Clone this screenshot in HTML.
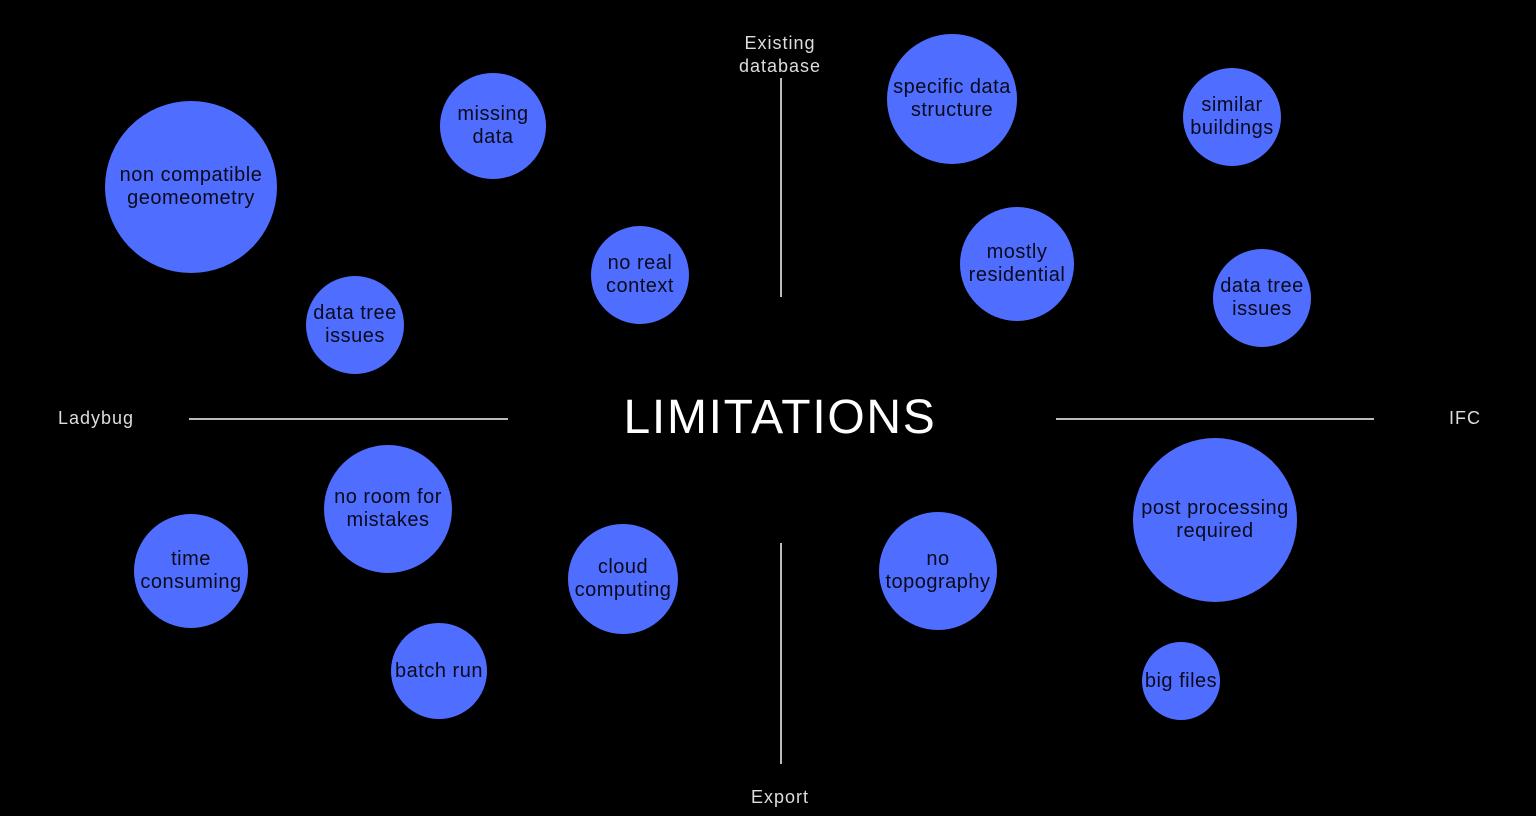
<!DOCTYPE html>
<html><head><style>
body{margin:0;width:1536px;height:816px;background:#000;overflow:hidden;position:relative;font-family:"Liberation Sans",sans-serif}
.c{position:absolute;border-radius:50%;background:#4F6EFF;display:flex;align-items:center;justify-content:center;text-align:center;color:#0a0a1a;font-size:20px;line-height:23px;letter-spacing:0.5px;white-space:nowrap}
.l{position:absolute;background:#bbb}
.t{position:absolute;color:#ddd;font-size:18px;letter-spacing:1px;text-align:center;line-height:23px}
</style></head><body>
<div class="l" style="left:780px;top:78px;width:1.5px;height:219px"></div>
<div class="l" style="left:780px;top:543px;width:1.5px;height:221px"></div>
<div class="l" style="left:189px;top:418px;width:319px;height:1.5px"></div>
<div class="l" style="left:1056px;top:418px;width:318px;height:1.5px"></div>
<div class="t" style="left:700px;top:32px;width:160px">Existing<br>database</div>
<div class="t" style="left:58px;top:407px">Ladybug</div>
<div class="t" style="left:1449px;top:407px">IFC</div>
<div class="t" style="left:700px;top:786px;width:160px">Export</div>
<div style="position:absolute;left:580px;top:388px;width:400px;text-align:center;color:#fff;font-size:48px;letter-spacing:1.7px;line-height:60px">LIMITATIONS</div>
<div class="c" style="left:105px;top:101px;width:172px;height:172px">non compatible<br>geomeometry</div>
<div class="c" style="left:440px;top:73px;width:106px;height:106px">missing<br>data</div>
<div class="c" style="left:306px;top:276px;width:98px;height:98px">data tree<br>issues</div>
<div class="c" style="left:591px;top:226px;width:98px;height:98px">no real<br>context</div>
<div class="c" style="left:887px;top:34px;width:130px;height:130px">specific data<br>structure</div>
<div class="c" style="left:1183px;top:68px;width:98px;height:98px">similar<br>buildings</div>
<div class="c" style="left:960px;top:207px;width:114px;height:114px">mostly<br>residential</div>
<div class="c" style="left:1213px;top:249px;width:98px;height:98px">data tree<br>issues</div>
<div class="c" style="left:324px;top:445px;width:128px;height:128px">no room for<br>mistakes</div>
<div class="c" style="left:134px;top:514px;width:114px;height:114px">time<br>consuming</div>
<div class="c" style="left:568px;top:524px;width:110px;height:110px">cloud<br>computing</div>
<div class="c" style="left:391px;top:623px;width:96px;height:96px">batch run</div>
<div class="c" style="left:879px;top:512px;width:118px;height:118px">no<br>topography</div>
<div class="c" style="left:1133px;top:438px;width:164px;height:164px">post processing<br>required</div>
<div class="c" style="left:1142px;top:642px;width:78px;height:78px">big files</div>
</body></html>
